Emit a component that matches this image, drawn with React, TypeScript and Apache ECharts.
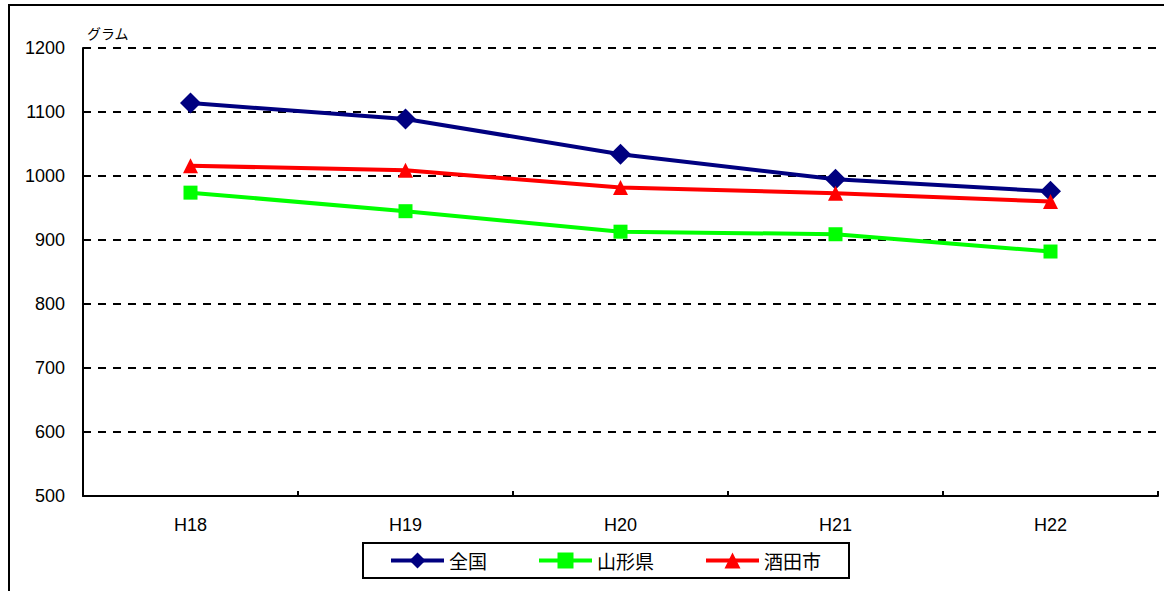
import React, { useEffect, useRef } from "react";
import * as echarts from "echarts";

const categories = ["H18", "H19", "H20", "H21", "H22"];
const zenkoku = [1114, 1089, 1034, 995, 976];
const yamagata = [974, 945, 913, 909, 882];
const sakata = [1016, 1009, 982, 973, 960];
const yTicks = { min: 500, max: 1200, interval: 100 };
const yName = "グラム";

const FONT = "'Liberation Sans', 'Noto Sans CJK JP', sans-serif";

export default function App() {
  const ref = useRef<HTMLDivElement>(null);
  useEffect(() => {
    if (!ref.current) return;
    const chart = echarts.init(ref.current, null, { renderer: "svg" });
    const mk = (name: string, data: number[], color: string, symbol: string, size: number) => ({
      name,
      type: "line",
      data,
      symbol,
      symbolSize: size,
      lineStyle: { color, width: 4 },
      itemStyle: { color },
      emphasis: { disabled: true },
    });
    chart.setOption({
      animation: false,
      backgroundColor: "#ffffff",
      textStyle: { fontFamily: FONT },
      graphic: [
        {
          type: "rect",
          shape: { x: 9, y: 5, width: 1160, height: 700 },
          style: { fill: "none", stroke: "#000", lineWidth: 2 },
          silent: true,
        },
      ],
      grid: { left: 83, top: 48, right: 6, bottom: 95, containLabel: false },
      legend: {
        left: 363,
        top: 543,
        padding: [8, 28, 8, 26],
        itemGap: 50,
        itemWidth: 53,
        itemHeight: 20,
        borderColor: "#000",
        borderWidth: 2,
        lineStyle: { width: 4 },
        textStyle: { fontSize: 19, color: "#000", fontFamily: "'Noto Sans CJK JP', sans-serif" },
        data: ["全国", "山形県", "酒田市"],
      },
      xAxis: {
        type: "category",
        data: categories,
        boundaryGap: true,
        axisLine: { lineStyle: { color: "#000", width: 2 } },
        axisTick: { show: true, inside: true, length: 5, interval: 0, lineStyle: { color: "#000", width: 2 } },
        axisLabel: { color: "#000", fontSize: 18, margin: 20, fontFamily: FONT },
        splitLine: { show: false },
      },
      yAxis: {
        type: "value",
        min: yTicks.min,
        max: yTicks.max,
        interval: yTicks.interval,
        name: yName,
        nameLocation: "end",
        nameGap: 8,
        nameTextStyle: { align: "left", fontSize: 14, color: "#000", padding: [0, 0, 0, 4], fontFamily: "'Noto Sans CJK JP', sans-serif" },
        axisLine: { show: true, lineStyle: { color: "#000", width: 2 } },
        axisTick: { show: false },
        axisLabel: { color: "#000", fontSize: 18, margin: 18, fontFamily: FONT, formatter: (v: number) => String(v) },
        splitLine: { show: true, lineStyle: { color: "#000", width: 2, type: [8, 7] } },
      },
      series: [
        mk("全国", zenkoku, "#000080", "diamond", 21),
        mk("山形県", yamagata, "#00ff00", "rect", 14),
        mk("酒田市", sakata, "#ff0000", "triangle", 15),
      ],
    });
    return () => chart.dispose();
  }, []);
  return (
    <div
      ref={ref}
      style={{ position: "absolute", left: 0, top: 0, width: 1164, height: 591 }}
    />
  );
}
